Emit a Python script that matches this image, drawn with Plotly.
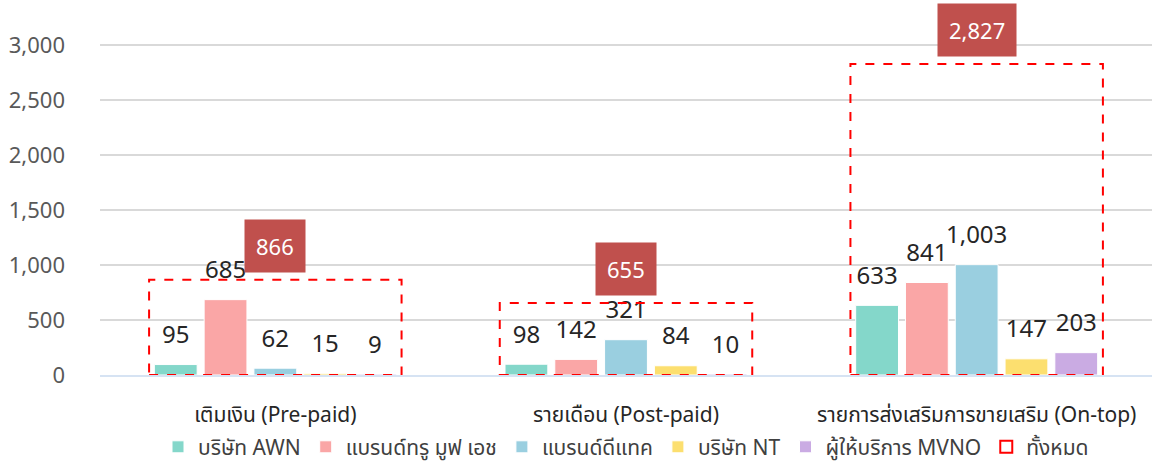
import plotly.graph_objects as go

categories = ["เติมเงิน (Pre-paid)", "รายเดือน (Post-paid)", "รายการส่งเสริมการขายเสริม (On-top)"]
series_names = ["บริษัท AWN", "แบรนด์ทรู มูฟ เอช", "แบรนด์ดีแทค", "บริษัท NT", "ผู้ให้บริการ MVNO"]
awn = [95, 98, 633]
true_move = [685, 142, 841]
dtac = [62, 321, 1003]
nt = [15, 84, 147]
mvno = [9, 10, 203]
totals = [866, 655, 2827]
total_name = "ทั้งหมด"
colors = ["#84D7CA", "#FAA6A6", "#9ACFE0", "#FCDF6F", "#CAABE3"]

series_values = [awn, true_move, dtac, nt, mvno]
FONT = "'Noto Sans', 'Noto Sans Thai', Tahoma, sans-serif"
BARGAP = 0.29

fig = go.Figure()
for i, (name, vals, col) in enumerate(zip(series_names, series_values, colors)):
    fig.add_trace(go.Bar(
        name=name, x=categories, y=vals, marker=dict(color=col, line=dict(color="white", width=1)),
        offsetgroup=f"b{i}", alignmentgroup="bars", hoverinfo="skip",
    ))
for i, (name, vals) in enumerate(zip(series_names, series_values)):
    fig.add_trace(go.Scatter(
        x=categories, y=vals, mode="markers+text", text=[f"{v:,}" for v in vals],
        textposition="top center", textfont=dict(size=24, color="#262626", family=FONT),
        marker=dict(size=23, opacity=0), offsetgroup=f"s{i}", alignmentgroup="labels",
        showlegend=False, hoverinfo="skip", cliponaxis=False,
    ))

for i, t in enumerate(totals):
    fig.add_shape(type="rect", xref="x", yref="y", x0=i - 0.36, x1=i + 0.36, y0=0, y1=t,
                  line=dict(color="#FF0000", width=2, dash="dash"), fillcolor="rgba(0,0,0,0)",
                  name=total_name, showlegend=(i == 0), legendgroup="total")
    fig.add_annotation(x=categories[i], y=t, xref="x", yref="y", text=f"{t:,}", showarrow=False,
                       yanchor="bottom", yshift=7, bgcolor="#C0504D", borderpad=11,
                       font=dict(size=22, color="white", family=FONT))

fig.update_layout(
    width=1152, height=464, paper_bgcolor="white", plot_bgcolor="white",
    margin=dict(l=100, r=0, t=23, b=89, autoexpand=False),
    barmode="group", bargap=BARGAP, bargroupgap=0.14,
    scattermode="group", scattergap=BARGAP,
    font=dict(family=FONT, color="#404040"),
    showlegend=True,
    legend=dict(orientation="h", x=0.5, xanchor="center", y=-0.205, yanchor="middle",
                font=dict(size=21, color="#404040", family=FONT), traceorder="normal"),
    xaxis=dict(showline=True, linecolor="#D6E3F3", linewidth=2, ticks="", automargin=False,
               tickfont=dict(size=21, color="#262626", family=FONT), ticklabelstandoff=20),
    yaxis=dict(range=[0, 3200], tickvals=[0, 500, 1000, 1500, 2000, 2500, 3000], tickformat=",",
               showgrid=True, gridcolor="#D9D9D9", gridwidth=1.5, zeroline=False, automargin=False,
               tickfont=dict(size=22, color="#595959", family=FONT), ticklabelstandoff=34),
)

fig.write_html("out.html", config={"displayModeBar": False},
               post_script="document.body.style.margin='0';document.body.style.overflow='hidden';")
